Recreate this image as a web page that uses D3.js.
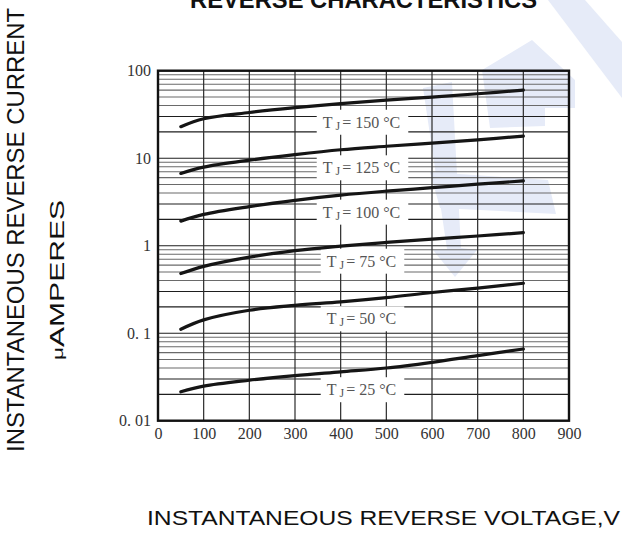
<!DOCTYPE html>
<html>
<head>
<meta charset="utf-8">
<script src="https://cdn.jsdelivr.net/npm/d3@7"></script>
<style>
  html, body { margin: 0; padding: 0; background: #fff; }
  svg { display: block; }
</style>
</head>
<body>
<svg id="chart" width="622" height="536"></svg>
<script>
// ---- data ----
const voltages = [50, 100, 200, 300, 400, 500, 600, 700, 800];
const i150 = [22.9, 28.2, 33.3, 37.8, 42, 46.2, 50, 54.5, 60];
const i125 = [6.7, 7.9, 9.5, 11.0, 12.5, 13.7, 14.9, 16.2, 17.9];
const i100 = [1.91, 2.28, 2.8, 3.3, 3.78, 4.2, 4.6, 5.05, 5.5];
const i75  = [0.48, 0.58, 0.74, 0.88, 0.99, 1.09, 1.19, 1.29, 1.41];
const i50  = [0.111, 0.142, 0.183, 0.208, 0.228, 0.255, 0.292, 0.328, 0.372];
const i25  = [0.0214, 0.0248, 0.029, 0.0328, 0.0362, 0.040, 0.0465, 0.0555, 0.066];
const seriesNames = ["150", "125", "100", "75", "50", "25"];
const labelValues = [26.1, 7.87, 2.45, 0.674, 0.148, 0.0229];
const xTicks = [0, 100, 200, 300, 400, 500, 600, 700, 800, 900];
const yTickValues = [100, 10, 1, 0.1, 0.01];
const yTickLabels = ["100", "10", "1", "0. 1", "0. 01"];
const labelVoltage = 450;

const series = [i150, i125, i100, i75, i50, i25];

// ---- layout ----
const svg = d3.select("#chart");
const L = 158, R = 569, T = 70.7, B = 420.7;
const x = d3.scaleLinear().domain([0, 900]).range([L, R]);
const y = d3.scaleLog().domain([0.01, 100]).range([B, T]);

// watermark (faint logo)
const wm = svg.append("g").attr("fill", "#e6ebf8");
wm.append("path").attr("d", "M423,88 L452,82 L461,248 L477,250 L455,277 L433,250 L447,249 Z");
wm.append("path").attr("d", "M430,172 L548,180 L556,214 L440,208 Z");
wm.append("path").attr("d", "M548,0 L585,0 L622,42 L622,98 Z");
wm.append("path").attr("d", "M482,70 L532,40 L575,80 L575,108 L545,108 L545,126 L490,128 Z");

// horizontal grid
const gridVals = [];
[0.01, 0.1, 1, 10].forEach(d => { for (let m = 1; m <= 9; m++) gridVals.push(d * m); });
gridVals.push(100);
svg.append("g").selectAll("line").data(gridVals).join("line")
  .attr("x1", L).attr("x2", R)
  .attr("y1", d => y(d)).attr("y2", d => y(d))
  .attr("stroke", (d) => {
    const m = Math.round(d / Math.pow(10, Math.floor(Math.log10(d) + 1e-9)));
    return (m === 1 || m === 2 || m === 3) ? "#1e1e1e" : "#6a6a6a";
  })
  .attr("stroke-width", 1.1);

// vertical grid
svg.append("g").selectAll("line").data(xTicks).join("line")
  .attr("x1", d => x(d)).attr("x2", d => x(d))
  .attr("y1", T).attr("y2", B)
  .attr("stroke", "#2a2a2a").attr("stroke-width", 1.2);

// label boxes + labels
const labG = svg.append("g");
seriesNames.forEach((n, i) => {
  const cx = x(labelVoltage) - 2;
  const cy = y(labelValues[i]);
  const box = labG.append("rect").attr("fill", "#fff");
  const t = labG.append("text")
    .attr("x", cx).attr("y", cy)
    .attr("text-anchor", "middle")
    .attr("dominant-baseline", "central")
    .attr("font-family", "'Liberation Serif', 'DejaVu Serif', serif")
    .attr("font-size", 16)
    .attr("fill", "#555");
  t.append("tspan").text("T");
  t.append("tspan").attr("dx", 3).attr("dy", 4).attr("font-size", 12).text("J");
  t.append("tspan").attr("dx", 2).attr("dy", -4).text("= " + n + " \u00B0C");
  const bb = t.node().getBBox();
  box.attr("x", bb.x - 6).attr("width", bb.width + 14)
     .attr("y", cy - 12).attr("height", 25);
});

// curves
const line = d3.line()
  .x(d => x(d[0])).y(d => y(d[1]))
  .curve(d3.curveCatmullRom.alpha(0.5));
svg.append("g").selectAll("path").data(series).join("path")
  .attr("d", s => line(voltages.map((v, k) => [v, s[k]])))
  .attr("fill", "none").attr("stroke", "#151515")
  .attr("stroke-width", 3.2).attr("stroke-linecap", "round");

// frame
svg.append("rect").attr("x", L).attr("y", T).attr("width", R - L).attr("height", B - T)
  .attr("fill", "none").attr("stroke", "#111").attr("stroke-width", 2.4);

// axes
const xAxis = svg.append("g").attr("transform", `translate(0,${B})`)
  .call(d3.axisBottom(x).tickValues(xTicks).tickFormat(d => String(d)).tickSize(0).tickPadding(7));
xAxis.select(".domain").remove();
xAxis.selectAll("text").attr("font-family", "'Liberation Serif', serif").attr("font-size", 16).attr("fill", "#333");

const yAxis = svg.append("g").attr("transform", `translate(${L},0)`)
  .call(d3.axisLeft(y).tickValues(yTickValues).tickFormat((d, i) => yTickLabels[i]).tickSize(0).tickPadding(7));
yAxis.select(".domain").remove();
yAxis.selectAll("text").attr("font-family", "'Liberation Serif', serif").attr("font-size", 16).attr("fill", "#333");

// title
svg.append("text").attr("x", 363.5).attr("y", 7.5).attr("text-anchor", "middle")
  .attr("font-family", "'Liberation Sans', Arial, sans-serif").attr("font-weight", "bold")
  .attr("font-size", 23).attr("textLength", 347).attr("lengthAdjust", "spacingAndGlyphs")
  .attr("fill", "#111").text("REVERSE CHARACTERISTICS");

// axis titles
svg.append("text").attr("transform", "translate(16,230) rotate(-90)")
  .attr("text-anchor", "middle").attr("dominant-baseline", "central")
  .attr("font-family", "'Liberation Sans', Arial, sans-serif").attr("font-size", 23)
  .attr("textLength", 444).attr("lengthAdjust", "spacingAndGlyphs")
  .attr("fill", "#111").text("INSTANTANEOUS REVERSE CURRENT");

const yl2 = svg.append("text").attr("transform", "translate(57,280) rotate(-90)")
  .attr("text-anchor", "middle").attr("dominant-baseline", "central")
  .attr("font-family", "'Liberation Sans', Arial, sans-serif").attr("font-size", 20)
  .attr("textLength", 160).attr("lengthAdjust", "spacingAndGlyphs")
  .attr("fill", "#111");
yl2.append("tspan").attr("font-size", 15).text("\u03BC");
yl2.append("tspan").text("AMPERES");

svg.append("text").attr("x", 383.5).attr("y", 525).attr("text-anchor", "middle")
  .attr("font-family", "'Liberation Sans', Arial, sans-serif").attr("font-size", 21)
  .attr("textLength", 473).attr("lengthAdjust", "spacingAndGlyphs")
  .attr("fill", "#111").text("INSTANTANEOUS REVERSE VOLTAGE,V");
</script>
</body>
</html>
